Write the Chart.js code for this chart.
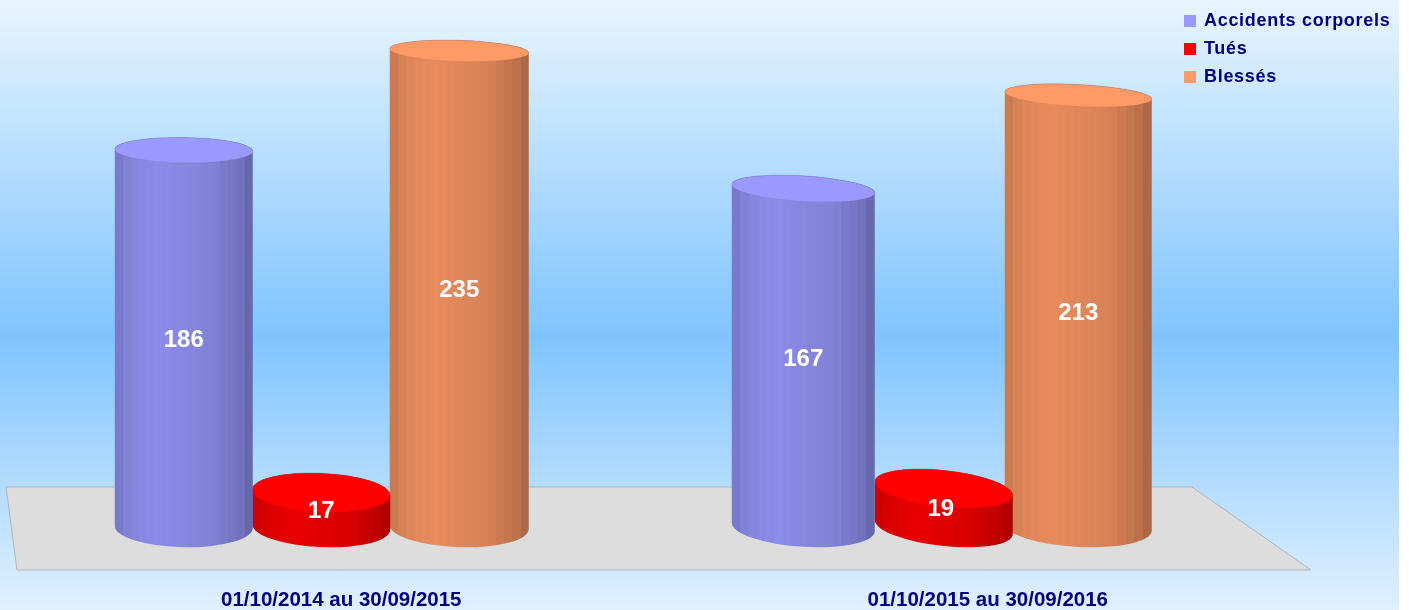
<!DOCTYPE html>
<html>
<head>
<meta charset="utf-8">
<title>Accidents</title>
<script src="https://cdn.jsdelivr.net/npm/chart.js@4/dist/chart.umd.min.js"></script>
<style>
  html, body { margin: 0; padding: 0; background: #fff; }
  canvas { display: block; }
</style>
</head>
<body>
<canvas id="chart" width="1409" height="610"></canvas>
<script>
const categories = ["01/10/2014 au 30/09/2015", "01/10/2015 au 30/09/2016"];
const seriesNames = ["Accidents corporels", "Tués", "Blessés"];
const accidents = [186, 167];
const tues = [17, 19];
const blesses = [235, 213];

const seriesColors = ["#9999ff", "#ff0000", "#ff9966"];
const navy = "#000080";

// brightness of the facets of a cylinder, left to right
const facets = [0.8, 0.84, 0.87, 0.89, 0.9, 0.91, 0.9, 0.89, 0.88, 0.87, 0.86, 0.85, 0.83, 0.8, 0.77, 0.74, 0.68];

// fake 3D: slant of each ellipse and small width/position corrections, per [dataset][category]
const slant = [[0.015, 0.06], [0.04, 0.1], [0.03, 0.05]];
const nudgeX = [[0.5, -2.5], [0, 0], [0, -3.5]];
const nudgeW = [[0, 5], [0, 0], [1, 9]];
const valueShift = [[0, 0], [0, -3], [0, 0]];
const labelShift = [20, 44];

function shade(hex, f) {
  const n = parseInt(hex.slice(1), 16);
  const c = [n >> 16, (n >> 8) & 255, n & 255].map(v => Math.round(v * f));
  return "rgb(" + c.join(",") + ")";
}

function facetGradient(ctx, left, width, color) {
  const g = ctx.createLinearGradient(left, 0, left + width, 0);
  facets.forEach((f, i) => {
    g.addColorStop(i / facets.length, shade(color, f));
    g.addColorStop((i + 1) / facets.length, shade(color, f));
  });
  return g;
}

// the ellipses get rounder towards the bottom of the picture
const ellipseHeight = y => 9.5 + y * 0.0205;

function ellipsePath(ctx, cx, cy, rx, ext, k, start, end, move) {
  const ry = Math.sqrt(Math.max(ext * ext - k * k * rx * rx, 1));
  ctx.save();
  ctx.transform(1, k, 0, 1, cx, cy);
  if (move) ctx.moveTo(rx * Math.cos(start), ry * Math.sin(start));
  ctx.ellipse(0, 0, rx, ry, 0, start, end);
  ctx.restore();
}

const cylinders = {
  id: "cylinders",
  afterUpdate(chart) {
    // move the elements and tick labels a little, for the perspective
    chart.data.datasets.forEach((ds, d) => {
      chart.getDatasetMeta(d).data.forEach((bar, i) => {
        bar.x += nudgeX[d][i];
        bar.width += nudgeW[d][i];
      });
    });
    chart.scales.x.getLabelItems().forEach((item, i) => {
      item.options.translation[0] += labelShift[i];
    });
  },
  afterLayout(chart) {
    chart.legend.left = 1175;
    chart.legend.right = 1409;
    chart.legend.top = 2;
  },
  beforeDraw(chart) {
    const ctx = chart.ctx;
    const g = ctx.createLinearGradient(0, 0, 0, 610);
    g.addColorStop(0, "#e8f5ff");
    g.addColorStop(0.55, "#80c4ff");
    g.addColorStop(1, "#e0f0ff");
    ctx.fillStyle = g;
    ctx.fillRect(0, 0, 1399, 610);

    // floor
    ctx.beginPath();
    ctx.moveTo(6, 487);
    ctx.lineTo(1192, 487);
    ctx.lineTo(1311, 570);
    ctx.lineTo(17, 570);
    ctx.closePath();
    ctx.fillStyle = "#dddddd";
    ctx.fill();
    ctx.strokeStyle = "#a9b8c6";
    ctx.lineWidth = 1;
    ctx.stroke();

    ctx.letterSpacing = "0.7px"; // legend only, it is drawn next
  },
  beforeDatasetsDraw(chart) {
    chart.ctx.letterSpacing = "0px";
  },
  beforeDatasetDraw(chart, args) {
    const ctx = chart.ctx;
    const d = args.index;
    const color = seriesColors[d];
    args.meta.data.forEach((bar, i) => {
      const rx = bar.width / 2;
      const left = bar.x - rx;
      const k = slant[d][i];
      const topExt = ellipseHeight(bar.y);
      const baseExt = ellipseHeight(bar.base);

      // side of the cylinder
      ctx.beginPath();
      ellipsePath(ctx, bar.x, bar.y, rx, topExt, k, Math.PI, 0, true);
      ellipsePath(ctx, bar.x, bar.base, rx, baseExt, k, 0, Math.PI, false);
      ctx.closePath();
      ctx.fillStyle = facetGradient(ctx, left, bar.width, color);
      ctx.fill();

      // top
      ctx.beginPath();
      ellipsePath(ctx, bar.x, bar.y, rx, topExt, k, 0, Math.PI * 2, true);
      ctx.fillStyle = color;
      ctx.fill();
      ctx.beginPath();
      ellipsePath(ctx, bar.x, bar.y, rx, topExt, k, Math.PI, Math.PI * 2, true);
      ctx.strokeStyle = "rgba(90,100,120,0.3)";
      ctx.lineWidth = 1;
      ctx.stroke();
    });
    return false; // cylinder replaces the flat bar
  },
  afterDatasetsDraw(chart) {
    const ctx = chart.ctx;
    ctx.save();
    ctx.font = "bold 24px 'Liberation Sans'";
    ctx.fillStyle = "#ffffff";
    ctx.textAlign = "center";
    ctx.textBaseline = "middle";
    chart.data.datasets.forEach((ds, d) => {
      chart.getDatasetMeta(d).data.forEach((bar, i) => {
        ctx.fillText(ds.data[i], bar.x + valueShift[d][i], (bar.y + bar.base) / 2 + 2);
      });
    });
    ctx.restore();
  }
};

Chart.defaults.font.family = "'Liberation Sans', Arial, sans-serif";

const makeDataset = (label, data, color) => ({
  label,
  data,
  backgroundColor: color,
  borderColor: color,
  borderWidth: 2,
  categoryPercentage: 0.665,
  barPercentage: 1
});

new Chart(document.getElementById("chart"), {
  type: "bar",
  data: {
    labels: categories,
    datasets: [
      makeDataset(seriesNames[0], accidents, seriesColors[0]),
      makeDataset(seriesNames[1], tues, seriesColors[1]),
      makeDataset(seriesNames[2], blesses, seriesColors[2])
    ]
  },
  plugins: [cylinders],
  options: {
    responsive: false,
    animation: false,
    layout: { padding: { left: 10, right: 154, top: 0, bottom: 0 } },
    scales: {
      x: {
        grid: { display: false },
        border: { display: false },
        afterFit: s => { s.height = 83; },
        ticks: {
          z: 1,
          padding: 53,
          color: navy,
          maxRotation: 0,
          font: { size: 20.5, weight: "bold" }
        }
      },
      y: { display: false, min: 0, max: 260 }
    },
    plugins: {
      tooltip: { enabled: false },
      legend: {
        position: "chartArea",
        align: "start",
        labels: {
          boxWidth: 10,
          boxHeight: 10,
          padding: 10,
          color: navy,
          font: { size: 18, weight: "bold" }
        }
      }
    }
  }
});
</script>
</body>
</html>
